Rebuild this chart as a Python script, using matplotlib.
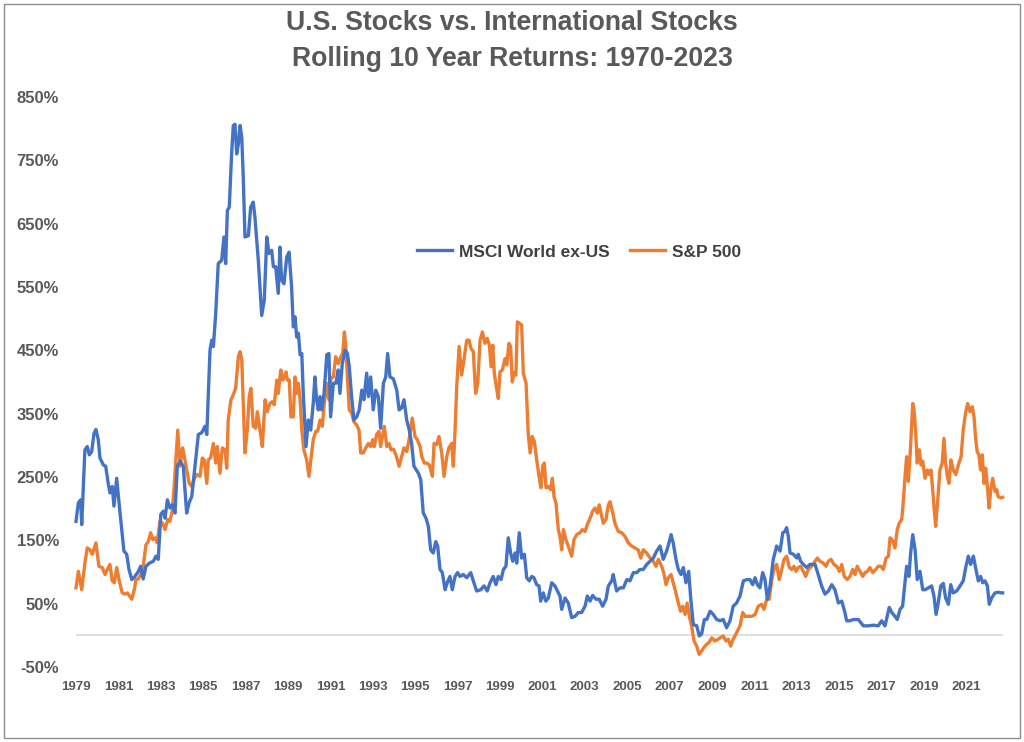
import matplotlib
matplotlib.use("Agg")
import matplotlib.pyplot as plt
from matplotlib.patches import Rectangle

# ---------------- data (decimal year, rolling 10-year return in %) ----------------
msci_t = [1979.00, 1979.11, 1979.22, 1979.27, 1979.42, 1979.53, 1979.63, 1979.74, 1979.85, 1979.94,
          1980.05, 1980.13, 1980.29, 1980.40, 1980.52, 1980.60, 1980.71, 1980.79, 1980.92, 1981.03,
          1981.16, 1981.26, 1981.39, 1981.50, 1981.63, 1981.78, 1981.94, 1982.05, 1982.17, 1982.30,
          1982.46, 1982.65, 1982.77, 1982.88, 1983.00, 1983.12, 1983.20, 1983.31, 1983.43, 1983.54,
          1983.67, 1983.78, 1983.91, 1984.06, 1984.22, 1984.33, 1984.46, 1984.61, 1984.77, 1984.93,
          1985.08, 1985.17, 1985.32, 1985.40, 1985.48, 1985.59, 1985.71, 1985.87, 1985.98, 1986.06,
          1986.14, 1986.23, 1986.34, 1986.42, 1986.50, 1986.58, 1986.66, 1986.74, 1986.82, 1986.89,
          1986.97, 1987.13, 1987.24, 1987.36, 1987.44, 1987.60, 1987.76, 1987.88, 1988.00, 1988.10,
          1988.23, 1988.31, 1988.42, 1988.54, 1988.62, 1988.70, 1988.81, 1988.94, 1989.05, 1989.17,
          1989.25, 1989.33, 1989.41, 1989.49, 1989.57, 1989.65, 1989.72, 1989.85, 1989.96, 1990.07,
          1990.19, 1990.27, 1990.35, 1990.43, 1990.51, 1990.59, 1990.70, 1990.83, 1990.93, 1991.01,
          1991.14, 1991.26, 1991.37, 1991.45, 1991.56, 1991.69, 1991.80, 1991.89, 1992.00, 1992.11,
          1992.24, 1992.36, 1992.48, 1992.58, 1992.71, 1992.79, 1992.90, 1993.02, 1993.14, 1993.26,
          1993.37, 1993.50, 1993.61, 1993.70, 1993.81, 1993.97, 1994.13, 1994.24, 1994.36, 1994.47,
          1994.60, 1994.72, 1994.83, 1994.94, 1995.15, 1995.26, 1995.38, 1995.51, 1995.62, 1995.73,
          1995.85, 1995.97, 1996.06, 1996.17, 1996.28, 1996.41, 1996.51, 1996.64, 1996.75, 1996.88,
          1997.00, 1997.11, 1997.27, 1997.43, 1997.62, 1997.74, 1997.90, 1998.09, 1998.25, 1998.40,
          1998.53, 1998.68, 1998.81, 1998.92, 1999.05, 1999.16, 1999.28, 1999.39, 1999.50, 1999.60,
          1999.71, 1999.79, 1999.91, 2000.02, 2000.15, 2000.26, 2000.38, 2000.50, 2000.60, 2000.73,
          2000.84, 2000.92, 2001.04, 2001.16, 2001.28, 2001.44, 2001.59, 2001.83, 2001.91, 2002.07,
          2002.22, 2002.38, 2002.54, 2002.69, 2002.85, 2003.01, 2003.12, 2003.25, 2003.37, 2003.53,
          2003.68, 2003.84, 2004.00, 2004.11, 2004.27, 2004.34, 2004.50, 2004.66, 2004.82, 2004.98,
          2005.13, 2005.29, 2005.45, 2005.60, 2005.76, 2005.92, 2006.08, 2006.23, 2006.39, 2006.55,
          2006.70, 2006.86, 2006.97, 2007.07, 2007.17, 2007.30, 2007.41, 2007.54, 2007.65, 2007.77,
          2007.90, 2008.00, 2008.12, 2008.28, 2008.40, 2008.51, 2008.64, 2008.75, 2008.91, 2009.06,
          2009.22, 2009.38, 2009.53, 2009.69, 2009.85, 2010.00, 2010.16, 2010.32, 2010.48, 2010.64,
          2010.79, 2010.92, 2011.03, 2011.14, 2011.26, 2011.39, 2011.50, 2011.61, 2011.74, 2011.89,
          2012.05, 2012.21, 2012.34, 2012.44, 2012.52, 2012.60, 2012.68, 2012.84, 2013.00, 2013.07,
          2013.18, 2013.31, 2013.47, 2013.62, 2013.86, 2014.01, 2014.17, 2014.33, 2014.49, 2014.65,
          2014.80, 2014.96, 2015.12, 2015.27, 2015.35, 2015.51, 2015.67, 2015.90, 2016.14, 2016.37,
          2016.61, 2016.84, 2017.00, 2017.16, 2017.36, 2017.48, 2017.63, 2017.74, 2017.87, 2017.99,
          2018.10, 2018.18, 2018.29, 2018.37, 2018.47, 2018.58, 2018.68, 2018.81, 2018.94, 2019.05,
          2019.20, 2019.36, 2019.47, 2019.57, 2019.67, 2019.79, 2019.91, 2020.02, 2020.15, 2020.26,
          2020.38, 2020.54, 2020.70, 2020.85, 2020.98, 2021.09, 2021.20, 2021.33, 2021.45, 2021.56,
          2021.67, 2021.77, 2021.88, 2021.99, 2022.08, 2022.19, 2022.35, 2022.50, 2022.66, 2022.71]
msci_v = [180, 209, 214, 175, 293, 298, 285, 290, 319, 325,
          309, 280, 269, 267, 240, 225, 235, 204, 248, 209,
          167, 133, 128, 104, 88, 93, 101, 109, 89, 109,
          114, 117, 125, 120, 191, 196, 185, 214, 201, 206,
          193, 267, 275, 267, 193, 209, 219, 267, 317, 320,
          330, 317, 450, 466, 456, 508, 587, 592, 629, 587,
          671, 676, 760, 805, 807, 760, 776, 805, 786, 723,
          629, 631, 676, 684, 660, 592, 505, 529, 629, 603,
          608, 582, 582, 540, 613, 561, 555, 597, 605, 550,
          487, 503, 471, 477, 443, 445, 382, 298, 340, 324,
          366, 408, 372, 356, 377, 356, 382, 443, 445, 345,
          398, 398, 419, 382, 429, 450, 445, 424, 377, 340,
          345, 356, 387, 372, 414, 377, 408, 356, 387, 377,
          327, 398, 408, 445, 408, 405, 387, 356, 359, 372,
          340, 324, 303, 267, 256, 246, 193, 185, 172, 135,
          130, 148, 141, 104, 99, 72, 83, 93, 72, 93,
          99, 93, 96, 91, 99, 86, 70, 72, 78, 70,
          83, 93, 80, 93, 88, 104, 109, 154, 130, 117,
          130, 114, 162, 122, 128, 91, 86, 93, 91, 80,
          78, 54, 67, 54, 59, 83, 78, 62, 41, 59,
          51, 28, 30, 36, 36, 46, 62, 54, 63, 57,
          57, 46, 57, 78, 86, 96, 70, 75, 75, 88,
          86, 99, 99, 104, 104, 112, 117, 122, 133, 141,
          120, 133, 146, 159, 146, 120, 104, 96, 107, 83,
          101, 57, 17, 15, -1, 2, 25, 25, 38, 33,
          25, 23, 25, 12, 23, 46, 51, 62, 86, 88,
          88, 80, 91, 80, 75, 99, 88, 57, 78, 120,
          141, 133, 162, 164, 170, 156, 130, 128, 122, 128,
          117, 112, 107, 112, 112, 96, 78, 65, 70, 80,
          72, 51, 54, 36, 23, 23, 25, 25, 15, 15,
          16, 15, 23, 15, 44, 36, 30, 25, 41, 46,
          83, 109, 93, 130, 159, 135, 88, 101, 72, 72,
          75, 78, 62, 33, 51, 78, 82, 59, 49, 80,
          67, 70, 78, 86, 109, 125, 112, 125, 104, 86,
          93, 83, 86, 78, 49, 59, 67, 68, 67, 67]

sp_t = [1979.00, 1979.11, 1979.27, 1979.42, 1979.53, 1979.66, 1979.77, 1979.94, 1980.08, 1980.24,
        1980.37, 1980.48, 1980.60, 1980.71, 1980.81, 1980.92, 1981.04, 1981.18, 1981.31, 1981.42,
        1981.55, 1981.63, 1981.75, 1981.83, 1981.94, 1982.05, 1982.17, 1982.30, 1982.41, 1982.52,
        1982.62, 1982.73, 1982.83, 1982.96, 1983.09, 1983.20, 1983.33, 1983.43, 1983.54, 1983.64,
        1983.72, 1983.80, 1983.91, 1984.03, 1984.14, 1984.25, 1984.34, 1984.46, 1984.57, 1984.69,
        1984.85, 1984.96, 1985.05, 1985.17, 1985.24, 1985.35, 1985.48, 1985.59, 1985.67, 1985.79,
        1985.90, 1986.03, 1986.11, 1986.18, 1986.31, 1986.42, 1986.53, 1986.66, 1986.74, 1986.82,
        1986.89, 1986.97, 1987.08, 1987.17, 1987.25, 1987.36, 1987.48, 1987.55, 1987.68, 1987.79,
        1987.92, 1988.02, 1988.15, 1988.26, 1988.35, 1988.47, 1988.54, 1988.66, 1988.75, 1988.83,
        1988.91, 1988.97, 1989.06, 1989.14, 1989.25, 1989.33, 1989.41, 1989.49, 1989.57, 1989.65,
        1989.75, 1989.88, 1989.99, 1990.08, 1990.19, 1990.31, 1990.40, 1990.51, 1990.62, 1990.71,
        1990.83, 1990.93, 1991.03, 1991.14, 1991.25, 1991.37, 1991.49, 1991.58, 1991.66, 1991.74,
        1991.80, 1991.89, 1992.00, 1992.11, 1992.24, 1992.35, 1992.43, 1992.55, 1992.67, 1992.79,
        1992.90, 1993.00, 1993.07, 1993.18, 1993.29, 1993.37, 1993.47, 1993.54, 1993.66, 1993.76,
        1993.86, 1993.97, 1994.09, 1994.24, 1994.36, 1994.47, 1994.60, 1994.71, 1994.86, 1994.99,
        1995.10, 1995.23, 1995.31, 1995.43, 1995.54, 1995.67, 1995.81, 1995.89, 1996.01, 1996.12,
        1996.25, 1996.36, 1996.49, 1996.59, 1996.72, 1996.80, 1996.88, 1996.96, 1997.07, 1997.19,
        1997.30, 1997.43, 1997.54, 1997.63, 1997.74, 1997.85, 1997.95, 1998.06, 1998.17, 1998.29,
        1998.40, 1998.50, 1998.58, 1998.66, 1998.73, 1998.84, 1998.92, 1999.00, 1999.11, 1999.24,
        1999.32, 1999.42, 1999.50, 1999.58, 1999.66, 1999.75, 1999.82, 1999.94, 2000.02, 2000.10,
        2000.23, 2000.33, 2000.42, 2000.52, 2000.62, 2000.73, 2000.84, 2000.93, 2001.01, 2001.09,
        2001.17, 2001.28, 2001.39, 2001.47, 2001.55, 2001.64, 2001.75, 2001.83, 2001.91, 2001.99,
        2002.11, 2002.22, 2002.38, 2002.49, 2002.62, 2002.77, 2002.88, 2003.01, 2003.12, 2003.25,
        2003.37, 2003.48, 2003.59, 2003.68, 2003.80, 2003.87, 2004.00, 2004.11, 2004.19, 2004.32,
        2004.42, 2004.58, 2004.74, 2004.90, 2005.05, 2005.21, 2005.37, 2005.52, 2005.64, 2005.76,
        2005.92, 2006.08, 2006.23, 2006.36, 2006.47, 2006.63, 2006.74, 2006.83, 2006.94, 2007.07,
        2007.17, 2007.30, 2007.41, 2007.52, 2007.62, 2007.73, 2007.83, 2007.93, 2008.04, 2008.15,
        2008.28, 2008.39, 2008.51, 2008.62, 2008.75, 2008.87, 2008.99, 2009.14, 2009.30, 2009.38,
        2009.53, 2009.66, 2009.77, 2009.88, 2010.00, 2010.16, 2010.32, 2010.45, 2010.56, 2010.71,
        2010.87, 2011.03, 2011.18, 2011.34, 2011.45, 2011.58, 2011.70, 2011.82, 2011.92, 2012.05,
        2012.17, 2012.29, 2012.40, 2012.52, 2012.65, 2012.76, 2012.87, 2012.96, 2013.07, 2013.18,
        2013.31, 2013.42, 2013.54, 2013.70, 2013.86, 2013.97, 2014.09, 2014.25, 2014.38, 2014.49,
        2014.61, 2014.75, 2014.88, 2015.01, 2015.12, 2015.24, 2015.38, 2015.51, 2015.64, 2015.75,
        2015.85, 2015.98, 2016.11, 2016.22, 2016.33, 2016.45, 2016.58, 2016.72, 2016.84, 2016.96,
        2017.08, 2017.21, 2017.32, 2017.40, 2017.50, 2017.63, 2017.74, 2017.83, 2017.95, 2018.03,
        2018.10, 2018.18, 2018.26, 2018.34, 2018.42, 2018.47, 2018.53, 2018.61, 2018.68, 2018.78,
        2018.86, 2018.94, 2019.05, 2019.16, 2019.25, 2019.33, 2019.41, 2019.47, 2019.55, 2019.65,
        2019.75, 2019.86, 2019.94, 2020.02, 2020.10, 2020.18, 2020.27, 2020.38, 2020.50, 2020.62,
        2020.75, 2020.85, 2020.97, 2021.06, 2021.17, 2021.28, 2021.36, 2021.44, 2021.51, 2021.59,
        2021.67, 2021.75, 2021.83, 2021.91, 2021.99, 2022.07, 2022.15, 2022.24, 2022.35, 2022.43,
        2022.50, 2022.62, 2022.71]
sp_v = [75, 101, 72, 114, 138, 135, 128, 146, 109, 107,
        96, 104, 112, 86, 83, 107, 86, 67, 65, 67,
        61, 57, 72, 88, 89, 96, 109, 143, 148, 162,
        151, 154, 146, 180, 177, 167, 183, 180, 196, 240,
        282, 324, 267, 296, 277, 256, 240, 235, 246, 254,
        251, 280, 277, 240, 277, 280, 303, 272, 298, 256,
        296, 293, 264, 340, 372, 380, 390, 440, 448, 435,
        366, 288, 324, 377, 390, 330, 327, 353, 324, 298,
        372, 353, 366, 369, 364, 403, 382, 419, 403, 408,
        416, 403, 403, 345, 345, 408, 382, 398, 372, 324,
        293, 277, 251, 277, 309, 322, 322, 340, 330, 366,
        398, 372, 406, 408, 440, 429, 440, 445, 479, 450,
        408, 356, 351, 337, 332, 324, 288, 288, 296, 303,
        298, 309, 298, 317, 322, 298, 317, 330, 298, 303,
        293, 294, 285, 267, 282, 296, 290, 309, 343, 314,
        309, 298, 282, 272, 272, 269, 251, 303, 301, 314,
        288, 251, 282, 296, 303, 267, 324, 393, 456, 411,
        435, 466, 466, 453, 448, 382, 398, 466, 479, 461,
        469, 458, 424, 458, 414, 390, 374, 416, 419, 437,
        427, 461, 456, 400, 414, 411, 495, 492, 490, 414,
        398, 319, 288, 314, 306, 277, 251, 233, 267, 272,
        233, 235, 230, 248, 219, 209, 167, 156, 135, 167,
        151, 141, 125, 151, 159, 162, 167, 164, 175, 185,
        196, 201, 193, 206, 188, 177, 183, 206, 211, 193,
        177, 164, 162, 156, 146, 141, 138, 135, 122, 135,
        130, 122, 117, 109, 120, 109, 96, 80, 91, 96,
        83, 67, 51, 38, 46, 33, 51, 30, 15, -9,
        -17, -30, -25, -19, -14, -11, -4, -9, -6, -4,
        -1, -9, -6, -17, -6, 4, 15, 36, 30, 30,
        30, 33, 46, 49, 41, 57, 57, 88, 104, 112,
        88, 104, 120, 125, 107, 104, 109, 101, 107, 109,
        101, 93, 104, 109, 117, 122, 117, 114, 109, 117,
        120, 112, 109, 101, 112, 93, 88, 93, 104, 96,
        109, 101, 93, 99, 101, 107, 99, 104, 109, 109,
        104, 122, 125, 154, 151, 138, 167, 177, 183, 214,
        248, 282, 243, 282, 335, 366, 356, 319, 272, 293,
        269, 275, 248, 261, 254, 261, 230, 204, 172, 214,
        261, 272, 311, 272, 251, 240, 277, 261, 254, 269,
        282, 324, 353, 366, 353, 361, 345, 309, 290, 285,
        261, 285, 240, 264, 235, 201, 230, 248, 227, 230,
        219, 217, 218]

series_names = ["MSCI World ex-US", "S&P 500"]
y_ticks = [-50, 50, 150, 250, 350, 450, 550, 650, 750, 850]
x_ticks = [1979, 1981, 1983, 1985, 1987, 1989, 1991, 1993, 1995, 1997, 1999, 2001,
           2003, 2005, 2007, 2009, 2011, 2013, 2015, 2017, 2019, 2021]
title_lines = ["U.S. Stocks vs. International Stocks", "Rolling 10 Year Returns: 1970-2023"]

# ---------------- styling ----------------
BLUE = "#4472C4"
ORANGE = "#ED7D31"
GRAY_TXT = "#595959"
plt.rcParams['font.family'] = ['Liberation Sans', 'DejaVu Sans']

W, H = 1024, 742
fig = plt.figure(figsize=(W / 100, H / 100), dpi=100)
fig.patch.set_facecolor("white")

# outer frame
fig.add_artist(Rectangle((4 / W, 4 / H), 1 - 8 / W, 1 - 8 / H, transform=fig.transFigure,
                         fill=False, edgecolor="#8C8C8C", linewidth=1.0))

left_px, right_px = 70, 1008
ax = fig.add_axes([left_px / W, (H - 667) / H, (right_px - left_px) / W, (667 - 97) / H])
px_per_year = 21.2
ax.set_xlim(1979 - (76 - left_px) / px_per_year, 1979 + (right_px - 76) / px_per_year)
ax.set_ylim(-50, 850)

ax.hlines(0, msci_t[0], msci_t[-1], color="#D9D9D9", linewidth=1.2, zorder=1)
ax.plot(msci_t, msci_v, color=BLUE, linewidth=2.4, label=series_names[0], zorder=3,
        solid_joinstyle="round")
ax.plot(sp_t, sp_v, color=ORANGE, linewidth=2.4, label=series_names[1], zorder=2,
        solid_joinstyle="round")

for s in ax.spines.values():
    s.set_visible(False)
ax.set_yticks(y_ticks)
ax.set_yticklabels([f"{v}%" for v in y_ticks], fontsize=12, fontweight="bold", color=GRAY_TXT)
ax.set_xticks(x_ticks)
ax.set_xticklabels([str(v) for v in x_ticks], fontsize=9.5, fontweight="bold", color=GRAY_TXT)
ax.tick_params(axis="both", length=0)
ax.tick_params(axis="y", pad=8)
ax.tick_params(axis="x", pad=10)

for line, ypx in zip(title_lines, [23, 59]):
    fig.text(0.5, 1 - ypx / H, line, ha="center", va="center", fontsize=19.2,
             fontweight="bold", color=GRAY_TXT)

leg = ax.legend(loc="center", bbox_to_anchor=(579 / W, 1 - 252 / H),
                bbox_transform=fig.transFigure, ncol=2, frameon=False,
                handlelength=2.0, handletextpad=0.4, columnspacing=1.2,
                prop={"weight": "bold", "size": 12.5})
for t in leg.get_texts():
    t.set_color("#404040")

fig.savefig("out.png", dpi=100, facecolor="white")
